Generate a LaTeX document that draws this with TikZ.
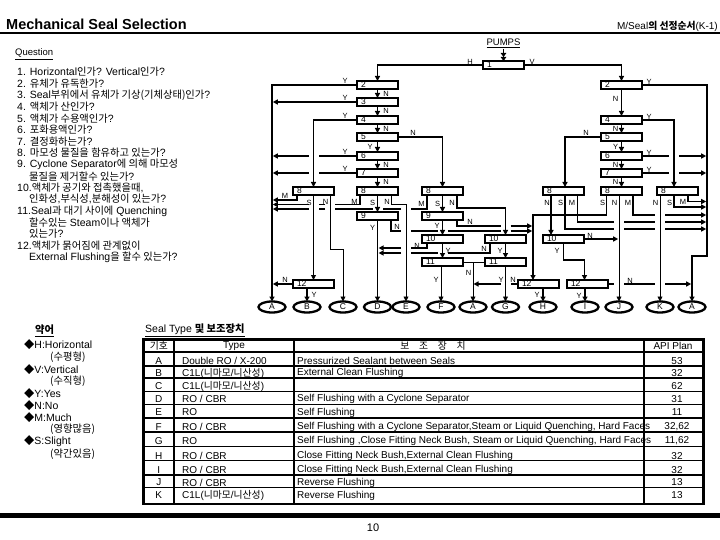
\documentclass[tikz,border=0pt]{standalone}
\usepackage{fontspec}
\setmainfont{Liberation Sans}
\newfontfamily\kr[Scale=0.98]{Noto Sans CJK KR}
\newcommand{\kor}[1]{{\kr #1}}
\usetikzlibrary{arrows.meta,shapes.geometric}
\begin{document}
\begin{tikzpicture}[x=1pt,y=-1pt,
  qbox/.style={draw,line width=1.8pt,fill=white,anchor=north west,minimum width=41pt,minimum height=8pt,text width=33pt,inner xsep=4pt,inner ysep=0pt,outer sep=0pt,align=left,font=\fontsize{8.5}{8.5}\selectfont},
  oval/.style={ellipse,draw,line width=2.3pt,fill=white,minimum width=27pt,minimum height=11pt,inner sep=0pt,outer sep=0pt,font=\fontsize{8.5}{8.5}\selectfont},
  fl/.style={line width=1.6pt,-{Triangle[length=5pt,width=5pt]}},
  tl/.style={line width=0.8pt,-{Triangle[length=5pt,width=5pt]}},
  lab/.style={inner sep=0pt,font=\fontsize{7.5}{7.5}\selectfont},
  txt/.style={anchor=west,inner sep=0pt,font=\fontsize{10.5}{11}\selectfont},
  ttxt/.style={anchor=west,inner sep=0pt,font=\fontsize{10}{11}\selectfont},
  tc/.style={inner sep=0pt,font=\fontsize{10}{11}\selectfont},
]
\useasboundingbox (0,0) rectangle (720,540);

% ---------- header ----------
\node[anchor=base west,inner sep=0pt,font=\bfseries\fontsize{14.5}{15}\selectfont] (title) at (6,30) {Mechanical Seal Selection};
\node[anchor=base east,inner sep=0pt,font=\fontsize{10}{10}\selectfont] (hdr) at (718,30) {M/Seal\kor{\bfseries 의 선정순서}(K-1)};
\draw[line width=2pt] (0,33) -- (720,33);
\node[anchor=base west,inner sep=0pt,font=\fontsize{9.5}{9.5}\selectfont] (qh) at (15,56) {\underline{Question}};

% ---------- questions ----------
\node[txt] (q1) at (17,72) {1. Horizontal\kor{인가}? Vertical\kor{인가}?};
\node[txt] (q2) at (17,83.6) {2. \kor{유체가 유독한가}?};
\node[txt] (q3) at (17,95.2) {3. Seal\kor{부위에서 유체가 기상(기체상태)인가}?};
\node[txt] (q4) at (17,106.7) {4. \kor{액체가 산인가}?};
\node[txt] (q5) at (17,118.3) {5. \kor{액체가 수용액인가}?};
\node[txt] (q6) at (17,129.9) {6. \kor{포화용액인가}?};
\node[txt] (q7) at (17,141.5) {7. \kor{결정화하는가}?};
\node[txt] (q8) at (17,153.1) {8. \kor{마모성 물질을 함유하고 있는가}?};
\node[txt] (q9) at (17,164.6) {9. Cyclone Separator\kor{에 의해 마모성}};
\node[txt] (q9b) at (29,176.2) {\kor{물질을 제거할수 있는가}?};
\node[txt] (q10) at (17,187.8) {10.\kor{액체가 공기와 접촉했을때},};
\node[txt] (q10b) at (29,199.4) {\kor{인화성},\kor{부식성},\kor{분해성이 있는가}?};
\node[txt] (q11) at (17,211) {11.Seal\kor{과 대기 사이에} Quenching};
\node[txt] (q11b) at (29,222.5) {\kor{할수있는} Steam\kor{이나 액체가}};
\node[txt] (q11c) at (29,234.1) {\kor{있는가}?};
\node[txt] (q12) at (17,245.7) {12.\kor{액체가 묽어짐에 관계없이}};
\node[txt] (q12b) at (29,257.3) {External Flushing\kor{을 할수 있는가}?};

% ---------- connectors ----------
\node[anchor=base,inner sep=0pt,font=\fontsize{9.5}{9.5}\selectfont] (pumps) at (503.5,46) {\underline{PUMPS}};
\draw[line width=1.3pt,-{Triangle[length=4pt,width=5.5pt]Triangle[length=4pt,width=5.5pt]}] (503.5,49) -- (503.5,61);

% H / V
\draw[fl] (483,65) -- (377.5,65) -- (377.5,81);
\node[lab] (hH) at (470,61.5) {H};
\draw[fl] (525,65) -- (621.5,65) -- (621.5,81);
\node[lab] (hV) at (532,61.5) {V};

% left column chain
\draw[fl] (377.5,89) -- (377.5,98);   \node[lab] (n23) at (386,93.5) {N};
\draw[fl] (377.5,106) -- (377.5,116); \node[lab] (n34) at (386,111) {N};
\draw[fl] (377.5,124) -- (377.5,133); \node[lab] (n45) at (386,128.5) {N};
\draw[fl] (377.5,141) -- (377.5,152); \node[lab] (y56) at (370,146.5) {Y};
\draw[fl] (377.5,160) -- (377.5,169); \node[lab] (n67) at (386,164.5) {N};
\draw[fl] (377.5,177) -- (377.5,187); \node[lab] (n78) at (386,182) {N};
\draw[fl] (377.5,196) -- (377.5,212); \node[lab] (s89) at (372.5,203) {S};

% left Y outputs and bus
\draw[fl] (357,85) -- (272,85) -- (272,301.5); \node[lab] (y2) at (345,81) {Y};
\draw[fl] (357,102) -- (272.8,102); \node[lab] (y3) at (345,98) {Y};
\draw[fl] (357,120) -- (313.5,120) -- (313.5,187); \node[lab] (y4) at (345,116) {Y};
\draw[fl] (398,137) -- (442.5,137) -- (442.5,187); \node[lab] (n5) at (413,132.5) {N};
\draw[fl] (357,156) -- (318.5,156) (308.5,156) -- (272.8,156); \node[lab] (y6) at (345,152) {Y};
\draw[fl] (357,173) -- (318.5,173) (308.5,173) -- (272.8,173); \node[lab] (y7) at (345,169) {Y};

% L8 outputs
\draw[fl] (360,196) -- (360,204.5) -- (335,204.5) (325,204.5) -- (318.5,204.5) (308.5,204.5) -- (272.8,204.5);
\node[lab] (m8) at (354.5,201.5) {M};
\draw[tl] (391.5,196) -- (391.5,204) -- (406,204) -- (406,301.5);
\node[lab] (nn8) at (387,202) {N};
% L9 outputs
\draw[fl] (377.5,220) -- (377.5,301.5); \node[lab] (y9) at (372.5,228) {Y};
\draw[fl] (391,220) -- (391,231) -- (401,231) (411,231) -- (437.5,231) (447.5,231) -- (500.5,231) (510.5,231) -- (532.2,231);
\node[lab] (n9) at (397,226.5) {N};

% C2 (acid branch)
\draw[tl] (313.5,196) -- (313.5,280); \node[lab] (s28) at (309,203) {S};
\draw[tl] (330,196) -- (330,249) -- (343,249) -- (343,301.5); \node[lab] (n28) at (325.5,202) {N};
\draw[fl] (297,196) -- (297,200) -- (272.8,200); \node[lab] (m28) at (285,195.5) {M};
\draw[fl] (307,288) -- (307,301.5); \node[lab] (y212) at (314,295) {Y};
\draw[fl] (293,284) -- (272.8,284); \node[lab] (n212) at (285,280) {N};

% C3
\draw[fl] (427,196) -- (427,209) -- (411,209) (401,209) -- (382.5,209) (372.5,209) -- (335,209) (325,209) -- (318.5,209) (308.5,209) -- (272.8,209);
\node[lab] (m38) at (421.5,203.5) {M};
\draw[fl] (442.5,196) -- (442.5,212); \node[lab] (s38) at (437.5,203.5) {S};
\draw[fl] (457,196) -- (457,208) -- (505.5,208) -- (505.5,235); \node[lab] (n38) at (452,203) {N};
\draw[fl] (442.5,220) -- (442.5,235); \node[lab] (y39) at (437,226) {Y};
\draw[fl] (457,220) -- (457,226) -- (500.5,226) (510.5,226) -- (532.2,226); \node[lab] (n39) at (470,222) {N};
\draw[fl] (442.5,243) -- (442.5,258); \node[lab] (y310) at (448,250.5) {Y};
\draw[fl] (427,243) -- (427,248) -- (411,248) (401,248) -- (378.6,248); \node[lab] (n310) at (417,245.5) {N};
\draw[fl] (490,243) -- (490,253) -- (447.5,253) (437.5,253) -- (411,253) (401,253) -- (378.6,253); \node[lab] (n410) at (484,249) {N};
\draw[fl] (505.5,243) -- (505.5,258); \node[lab] (y410) at (500,250.5) {Y};
\draw[line width=0.8pt] (463,262) -- (485,262);
\draw[tl] (473,262) -- (473,301.5); \node[lab] (n11) at (468.5,273) {N};
\draw[tl] (441,266) -- (441,301.5); \node[lab] (y311) at (436,280) {Y};
\draw[tl] (505.5,266) -- (505.5,301.5); \node[lab] (y411) at (501,280) {Y};
\draw[fl] (518,284) -- (510.5,284) (500.5,284) -- (473.5,284); \node[lab] (nh12) at (513,280) {N};
\draw[fl] (543,288) -- (543,301.5); \node[lab] (yh12) at (537,295) {Y};

% right column chain
\draw[fl] (621.5,89) -- (621.5,116);  \node[lab] (r24) at (615.5,99) {N};
\draw[fl] (621.5,124) -- (621.5,133); \node[lab] (r45) at (615.5,128.5) {N};
\draw[fl] (621.5,141) -- (621.5,152); \node[lab] (r56) at (615.5,146.5) {Y};
\draw[fl] (621.5,160) -- (621.5,169); \node[lab] (r67) at (615.5,164.5) {N};
\draw[fl] (621.5,177) -- (621.5,187); \node[lab] (r78) at (615.5,182) {N};

\draw[fl] (642,85) -- (707,85) -- (707,256) -- (692,256) -- (692,301.5); \node[lab] (ry2) at (649,81.5) {Y};
\draw[fl] (642,120) -- (674,120) -- (674,187); \node[lab] (ry4) at (649,116.5) {Y};
\draw[fl] (601,137) -- (565,137) -- (565,187); \node[lab] (rn5) at (586,133) {N};
\draw[fl] (642,156) -- (669,156) (679,156) -- (706.2,156); \node[lab] (ry6) at (649,152.5) {Y};
\draw[fl] (642,173) -- (669,173) (679,173) -- (706.2,173); \node[lab] (ry7) at (649,169.5) {Y};

% C6 outputs
\draw[fl] (606.5,196) -- (606.5,215) -- (533,215) -- (533,280); \node[lab] (s68) at (602.5,203) {S};
\draw[tl] (619,196) -- (619,301.5); \node[lab] (n68) at (614.5,203) {N};
\draw[fl] (633,196) -- (633,215) -- (655,215) (665,215) -- (706.2,215); \node[lab] (m68) at (628,203) {M};
% C5 outputs
\draw[fl] (551,196) -- (551,235); \node[lab] (n58) at (547,203) {N};
\draw[fl] (565,196) -- (565,229) -- (614,229) (624,229) -- (655,229) (665,229) -- (706.2,229); \node[lab] (s58) at (560.5,203) {S};
\draw[fl] (577.5,196) -- (577.5,222) -- (614,222) (624,222) -- (655,222) (665,222) -- (706.2,222); \node[lab] (m58) at (572,203) {M};
% C7 outputs
\draw[tl] (660,196) -- (660,301.5); \node[lab] (n78b) at (655.5,203) {N};
\draw[fl] (674,196) -- (674,207) -- (706.2,207); \node[lab] (s78) at (669.5,203) {S};
\draw[fl] (688,196) -- (688,201.5) -- (706.2,201.5); \node[lab] (m78) at (683,202) {M};
% C5 box 10
\draw[fl] (563.5,243) -- (563.5,260) -- (584.5,260) -- (584.5,280); \node[lab] (y510) at (557,251) {Y};
\draw[fl] (584,239) -- (618.2,239); \node[lab] (n510) at (590,235.5) {N};
% I box 12
\draw[fl] (585,288) -- (585,301.5); \node[lab] (yi12) at (579,295.5) {Y};
\draw[fl] (608,284) -- (614,284) (624,284) -- (655,284) (665,284) -- (691.2,284); \node[lab] (ni12) at (630,280.5) {N};

% ---------- boxes ----------
\node[qbox] (B1) at (483,61) {1};
\node[qbox] (L2) at (357,81) {2};
\node[qbox] (L3) at (357,98) {3};
\node[qbox] (L4) at (357,116) {4};
\node[qbox] (L5) at (357,133) {5};
\node[qbox] (L6) at (357,152) {6};
\node[qbox] (L7) at (357,169) {7};
\node[qbox] (L8) at (357,187) {8};
\node[qbox] (L9) at (357,212) {9};
\node[qbox] (C2B8) at (293,187) {8};
\node[qbox] (C2B12) at (293,280) {12};
\node[qbox] (C3B8) at (422,187) {8};
\node[qbox] (C3B9) at (422,212) {9};
\node[qbox] (C3B10) at (422,235) {10};
\node[qbox] (C3B11) at (422,258) {11};
\node[qbox] (C4B10) at (485,235) {10};
\node[qbox] (C4B11) at (485,258) {11};
\node[qbox] (C5B8) at (543,187) {8};
\node[qbox] (C5B10) at (543,235) {10};
\node[qbox] (HB12) at (518,280) {12};
\node[qbox] (IB12) at (567,280) {12};
\node[qbox] (R2) at (601,81) {2};
\node[qbox] (R4) at (601,116) {4};
\node[qbox] (R5) at (601,133) {5};
\node[qbox] (R6) at (601,152) {6};
\node[qbox] (R7) at (601,169) {7};
\node[qbox] (C6B8) at (601,187) {8};
\node[qbox] (C7B8) at (657,187) {8};

% ---------- result ovals ----------
\node[oval] (oA1) at (272,307) {A};
\node[oval] (oB) at (307,307) {B};
\node[oval] (oC) at (343,307) {C};
\node[oval] (oD) at (377.5,307) {D};
\node[oval] (oE) at (406,307) {E};
\node[oval] (oF) at (441,307) {F};
\node[oval] (oA2) at (473,307) {A};
\node[oval] (oG) at (505.5,307) {G};
\node[oval] (oH) at (543,307) {H};
\node[oval] (oI) at (585,307) {I};
\node[oval] (oJ) at (619,307) {J};
\node[oval] (oK) at (660,307) {K};
\node[oval] (oA3) at (692,307) {A};

% ---------- legend ----------
\node[txt] (lg0) at (35,331) {\kor{\bfseries\underline{약어}}};
\node[txt] (lg1) at (24,345) {\kor{◆}H:Horizontal};
\node[txt] (lg2) at (50,357.5) {\kor{(수평형)}};
\node[txt] (lg3) at (24,370) {\kor{◆}V:Vertical};
\node[txt] (lg4) at (50,381.5) {\kor{(수직형)}};
\node[txt] (lg5) at (24,394) {\kor{◆}Y:Yes};
\node[txt] (lg6) at (24,406) {\kor{◆}N:No};
\node[txt] (lg7) at (24,418) {\kor{◆}M:Much};
\node[txt] (lg8) at (50,429.5) {\kor{(영향많음)}};
\node[txt] (lg9) at (24,441.5) {\kor{◆}S:Slight};
\node[txt] (lg10) at (50,454) {\kor{(약간있음)}};

% ---------- table ----------
\node[txt] (tt) at (145,330.5) {\underline{Seal Type \kor{\bfseries 및 보조장치}}};
\foreach \yy in {366,378,391.5,404.5,418,432,446.5,460.5,475,487.5}
  \draw[line width=1.2pt] (143.5,\yy) -- (703.5,\yy);
\draw[line width=2.4pt] (143.5,352) -- (703.5,352);
\draw[line width=2pt] (174,339.5) -- (174,504);
\draw[line width=2pt] (293.5,339.5) -- (293.5,504);
\draw[line width=2pt] (644,339.5) -- (644,504);
\draw[line width=2.6pt] (143.5,339.5) rectangle (703.5,504);
\node[tc] (th1) at (158.8,346) {\kor{기호}};
\node[tc] (th2) at (234,346) {Type};
\node[tc] (th3) at (433,346) {\kor{보\quad 조\quad 장\quad 치}};
\node[tc] (th4) at (673,346) {API Plan};
\foreach \yy/\cc/\ty/\ax/\ap [count=\i] in {
  361/A/{Double RO / X-200}/{Pressurized Sealant between Seals}/53,
  373/B/{C1L(\kor{니마모}/\kor{니산성})}/{External Clean Flushing}/32,
  386/C/{C1L(\kor{니마모}/\kor{니산성})}/{}/62,
  399/D/{RO / CBR}/{Self Flushing with a Cyclone Separator}/31,
  412.5/E/{RO}/{Self Flushing}/11,
  427/F/{RO / CBR}/{Self Flushing with a Cyclone Separator,Steam or Liquid Quenching, Hard Faces}/{32,62},
  441/G/{RO}/{Self Flushing ,Close Fitting Neck Bush, Steam or Liquid Quenching, Hard Faces}/{11,62},
  456/H/{RO / CBR}/{Close Fitting Neck Bush,External Clean Flushing}/32,
  470/I/{RO / CBR}/{Close Fitting Neck Bush,External Clean Flushing}/32,
  482.5/J/{RO / CBR}/{Reverse Flushing}/13,
  495.5/K/{C1L(\kor{니마모}/\kor{니산성})}/{Reverse Flushing}/13}
{
  \node[tc] (tc\i) at (158.8,\yy) {\cc};
  \node[ttxt] (ty\i) at (182,\yy) {\ty};
  \node[ttxt] (tx\i) at (297,\yy) {\ax};
  \node[tc] (tp\i) at (677,\yy) {\ap};
}

% ---------- footer ----------
\draw[line width=5pt] (0,515.5) -- (720,515.5);
\node[inner sep=0pt,font=\fontsize{11}{11}\selectfont] (pg) at (373,528) {10};
\end{tikzpicture}
\end{document}
